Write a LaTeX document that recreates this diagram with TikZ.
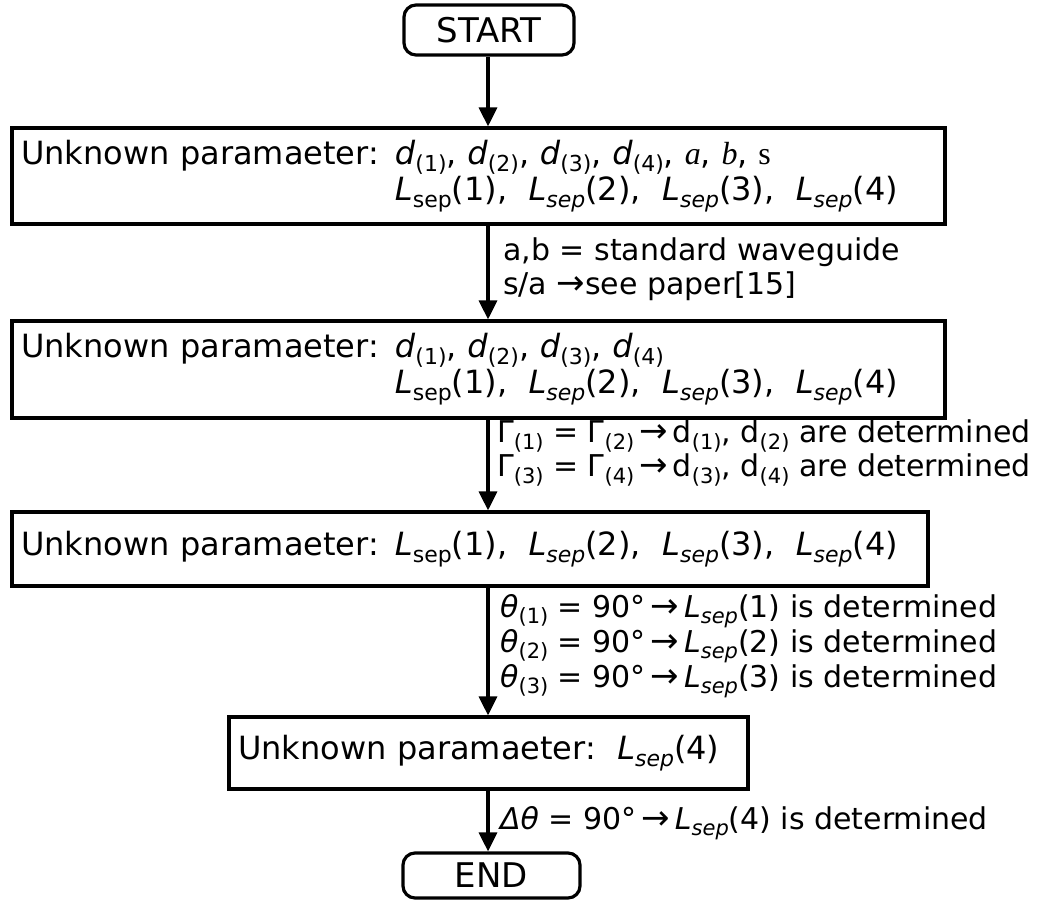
\documentclass[tikz,border=0pt]{standalone}
\usepackage{fontspec}
\setmainfont{DejaVu Sans}[ItalicFont={DejaVu Sans Oblique}]
\newfontfamily\serfont{Liberation Serif}
\usetikzlibrary{arrows.meta}
\def\subsz{22}
\newcommand\sbx[1]{\raisebox{-0.22em}{\fontsize{\subsz}{\subsz}\selectfont #1}}
\newcommand\Ls{\textit{L}\sbx{sep}}
\newcommand\Li{\textit{L}\sbx{\itshape sep}}
\newcommand\dd[1]{\textit{d}\sbx{(#1)}}
\newcommand\arr{{\fontsize{34}{26}\selectfont →}}
\begin{document}
\begin{tikzpicture}[x=1pt,y=-1pt,
  boxfont/.style={font=\fontsize{32}{36}\selectfont},
  lblfont/.style={font=\fontsize{30}{33.5}\selectfont\def\subsz{21}},
  pbox/.style={draw, line width=3.2pt, boxfont, inner xsep=9pt, inner ysep=0pt, align=left},
  term/.style={draw, line width=3.2pt, font=\fontsize{34}{36}\selectfont, rounded corners=12pt, inner sep=0pt, align=center},
  flow/.style={line width=3.2pt, -{Triangle[width=18pt,length=19pt]}},
  lbl/.style={lblfont, anchor=west, align=left, inner sep=0pt}]
\useasboundingbox (0,0) rectangle (1044,901);
\coordinate (ax) at (488,0);
\node[term, minimum width=170pt, minimum height=50pt] (start) at (489,30) {START};
\node[pbox, text width=915pt, minimum height=96pt] (b1) at (478.5,176)
  {Unknown paramaeter: \dd1, \dd2, \dd3, \dd4, {\serfont\itshape a}, {\serfont\itshape b}, {\serfont s}\\
   \phantom{Unknown paramaeter: }\Ls(1),\ \ \Li(2),\ \ \Li(3),\ \ \Li(4)};
\node[pbox, text width=915pt, minimum height=97pt] (b2) at (478.5,369.5)
  {Unknown paramaeter: \dd1, \dd2, \dd3, \dd4\\
   \phantom{Unknown paramaeter: }\Ls(1),\ \ \Li(2),\ \ \Li(3),\ \ \Li(4)};
\node[pbox, text width=898pt, minimum height=74pt] (b3) at (470,549)
  {Unknown paramaeter: \Ls(1),\ \ \Li(2),\ \ \Li(3),\ \ \Li(4)};
\node[pbox, text width=501pt, minimum height=72pt] (b4) at (488.5,753)
  {Unknown paramaeter:\ \ \Li(4)};
\node[term, minimum width=177pt, minimum height=45pt] (end) at (491.5,875.5) {END};
\draw[flow] (start.south -| ax) -- (b1.north -| ax);
\draw[flow] (b1.south -| ax) -- (b2.north -| ax);
\draw[flow] (b2.south -| ax) -- (b3.north -| ax);
\draw[flow] (b3.south -| ax) -- (b4.north -| ax);
\draw[flow] (b4.south -| ax) -- (end.north -| ax);
\node[lbl] (l1) at (503,269) {a,b = standard waveguide\\ s/a \arr see paper[15]};
\node[lbl] (l2) at (497,453) {Γ\sbx{(1)} = Γ\sbx{(2)}\,\arr\,d\sbx{(1)}, d\sbx{(2)} are determined\\
  Γ\sbx{(3)} = Γ\sbx{(4)}\,\arr\,d\sbx{(3)}, d\sbx{(4)} are determined};
\node[lbl] (l3) at (500,646) {\textit{θ}\sbx{(1)} = 90°\,\arr\,\Li(1) is determined\\
  \textit{θ}\sbx{(2)} = 90°\,\arr\,\Li(2) is determined\\
  \textit{θ}\sbx{(3)} = 90°\,\arr\,\Li(3) is determined};
\node[lbl] (l4) at (500,823) {\textit{Δθ} = 90°\,\arr\,\Li(4) is determined};
\end{tikzpicture}
\end{document}
